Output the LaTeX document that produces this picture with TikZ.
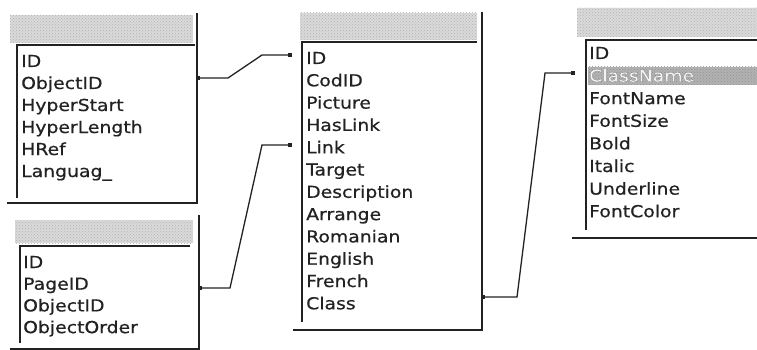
\documentclass[tikz,border=0pt]{standalone}
\usepackage{fontspec}
\setmainfont{DejaVu Sans}[FakeStretch=1.14,FakeBold=0.6]
\usetikzlibrary{patterns}
\definecolor{ink}{HTML}{222222}
\definecolor{hdr}{HTML}{DADADA}
\tikzset{
  fld/.style={anchor=base west, inner sep=0pt, text=ink, font=\fontsize{16.5}{18}\selectfont},
  frame/.style={draw=ink, line width=1.8pt},
  inset/.style={draw=ink, line width=1.5pt},
  hbar/.style={fill=hdr, draw=none},
  hdots/.style={pattern=crosshatch dots, pattern color=gray!60},
  link/.style={draw=ink, line width=1.3pt},
  endpt/.style={rectangle, fill=ink, inner sep=0pt, minimum size=4pt}
}
\begin{document}
\begin{tikzpicture}[x=1pt,y=-1pt]
\useasboundingbox (0,0) rectangle (757,350);
\fill[white] (0,0) rectangle (757,350);

% ---------- Table 1 (top left)
\fill[hbar] (10,15) rectangle (193,43);
\fill[hdots] (10,15) rectangle (193,43);
\draw[inset] (195,45) -- (17,45) -- (17,198);
\draw[frame] (197,13) -- (197,203) -- (7,203);
\foreach \t [count=\i from 0] in {ID,ObjectID,HyperStart,HyperLength,HRef,Languag\_}
  \node[fld] (ta\i) at (21,{67+22*\i}) {\t};

% ---------- Table 3 (bottom left)
\fill[hbar] (15,220) rectangle (193,243);
\fill[hdots] (15,220) rectangle (193,243);
\draw[inset] (190,246) -- (20,246) -- (20,343);
\draw[frame] (199,215) -- (199,349) -- (10,349);
\foreach \t [count=\i from 0] in {ID,PageID,ObjectID,ObjectOrder}
  \node[fld] (tc\i) at (23,{268+21.7*\i}) {\t};

% ---------- Center table
\fill[hbar] (300,13) rectangle (477,40);
\fill[hdots] (300,13) rectangle (477,40);
\draw[inset] (477,42) -- (302,42) -- (302,322);
\draw[frame] (482,12) -- (482,330) -- (293,330);
\foreach \t [count=\i from 0] in {ID,CodID,Picture,HasLink,Link,Target,Description,Arrange,Romanian,English,French,Class}
  \node[fld] (tb\i) at (306,{64+22.3*\i}) {\t};

% ---------- Right table
\fill[hbar] (577,8) rectangle (757,37);
\fill[hdots] (577,8) rectangle (757,37);
\fill[gray!60] (588,67) rectangle (757,85);
\fill[pattern=crosshatch dots, pattern color=gray!85] (588,67) rectangle (757,85);
\draw[inset] (757,40) -- (586,40) -- (586,230);
\draw[frame] (572,238) -- (757,238);
\foreach \t [count=\i from 0] in {ID,ClassName,FontName,FontSize,Bold,Italic,Underline,FontColor}
  \node[fld] (td\i) at (589,{59+22.6*\i}) {\t};
\node[fld, text=gray!10] at (td1.base west) {ClassName};

% ---------- Connectors
\coordinate (a1) at (198,78);
\coordinate (b1) at (290,55);
\coordinate (a2) at (200,288);
\coordinate (b2) at (290,145);
\coordinate (a3) at (483,297);
\coordinate (b3) at (573,73);
\draw[link] (a1) -- (228,78) -- (262,55) -- (b1);
\draw[link] (a2) -- (230,288) -- (262,145) -- (b2);
\draw[link] (a3) -- (517,297) -- (545,73) -- (b3);
\foreach \p in {a1,b1,a2,b2,a3,b3}
  \node[endpt] at (\p) {};
\end{tikzpicture}
\end{document}
